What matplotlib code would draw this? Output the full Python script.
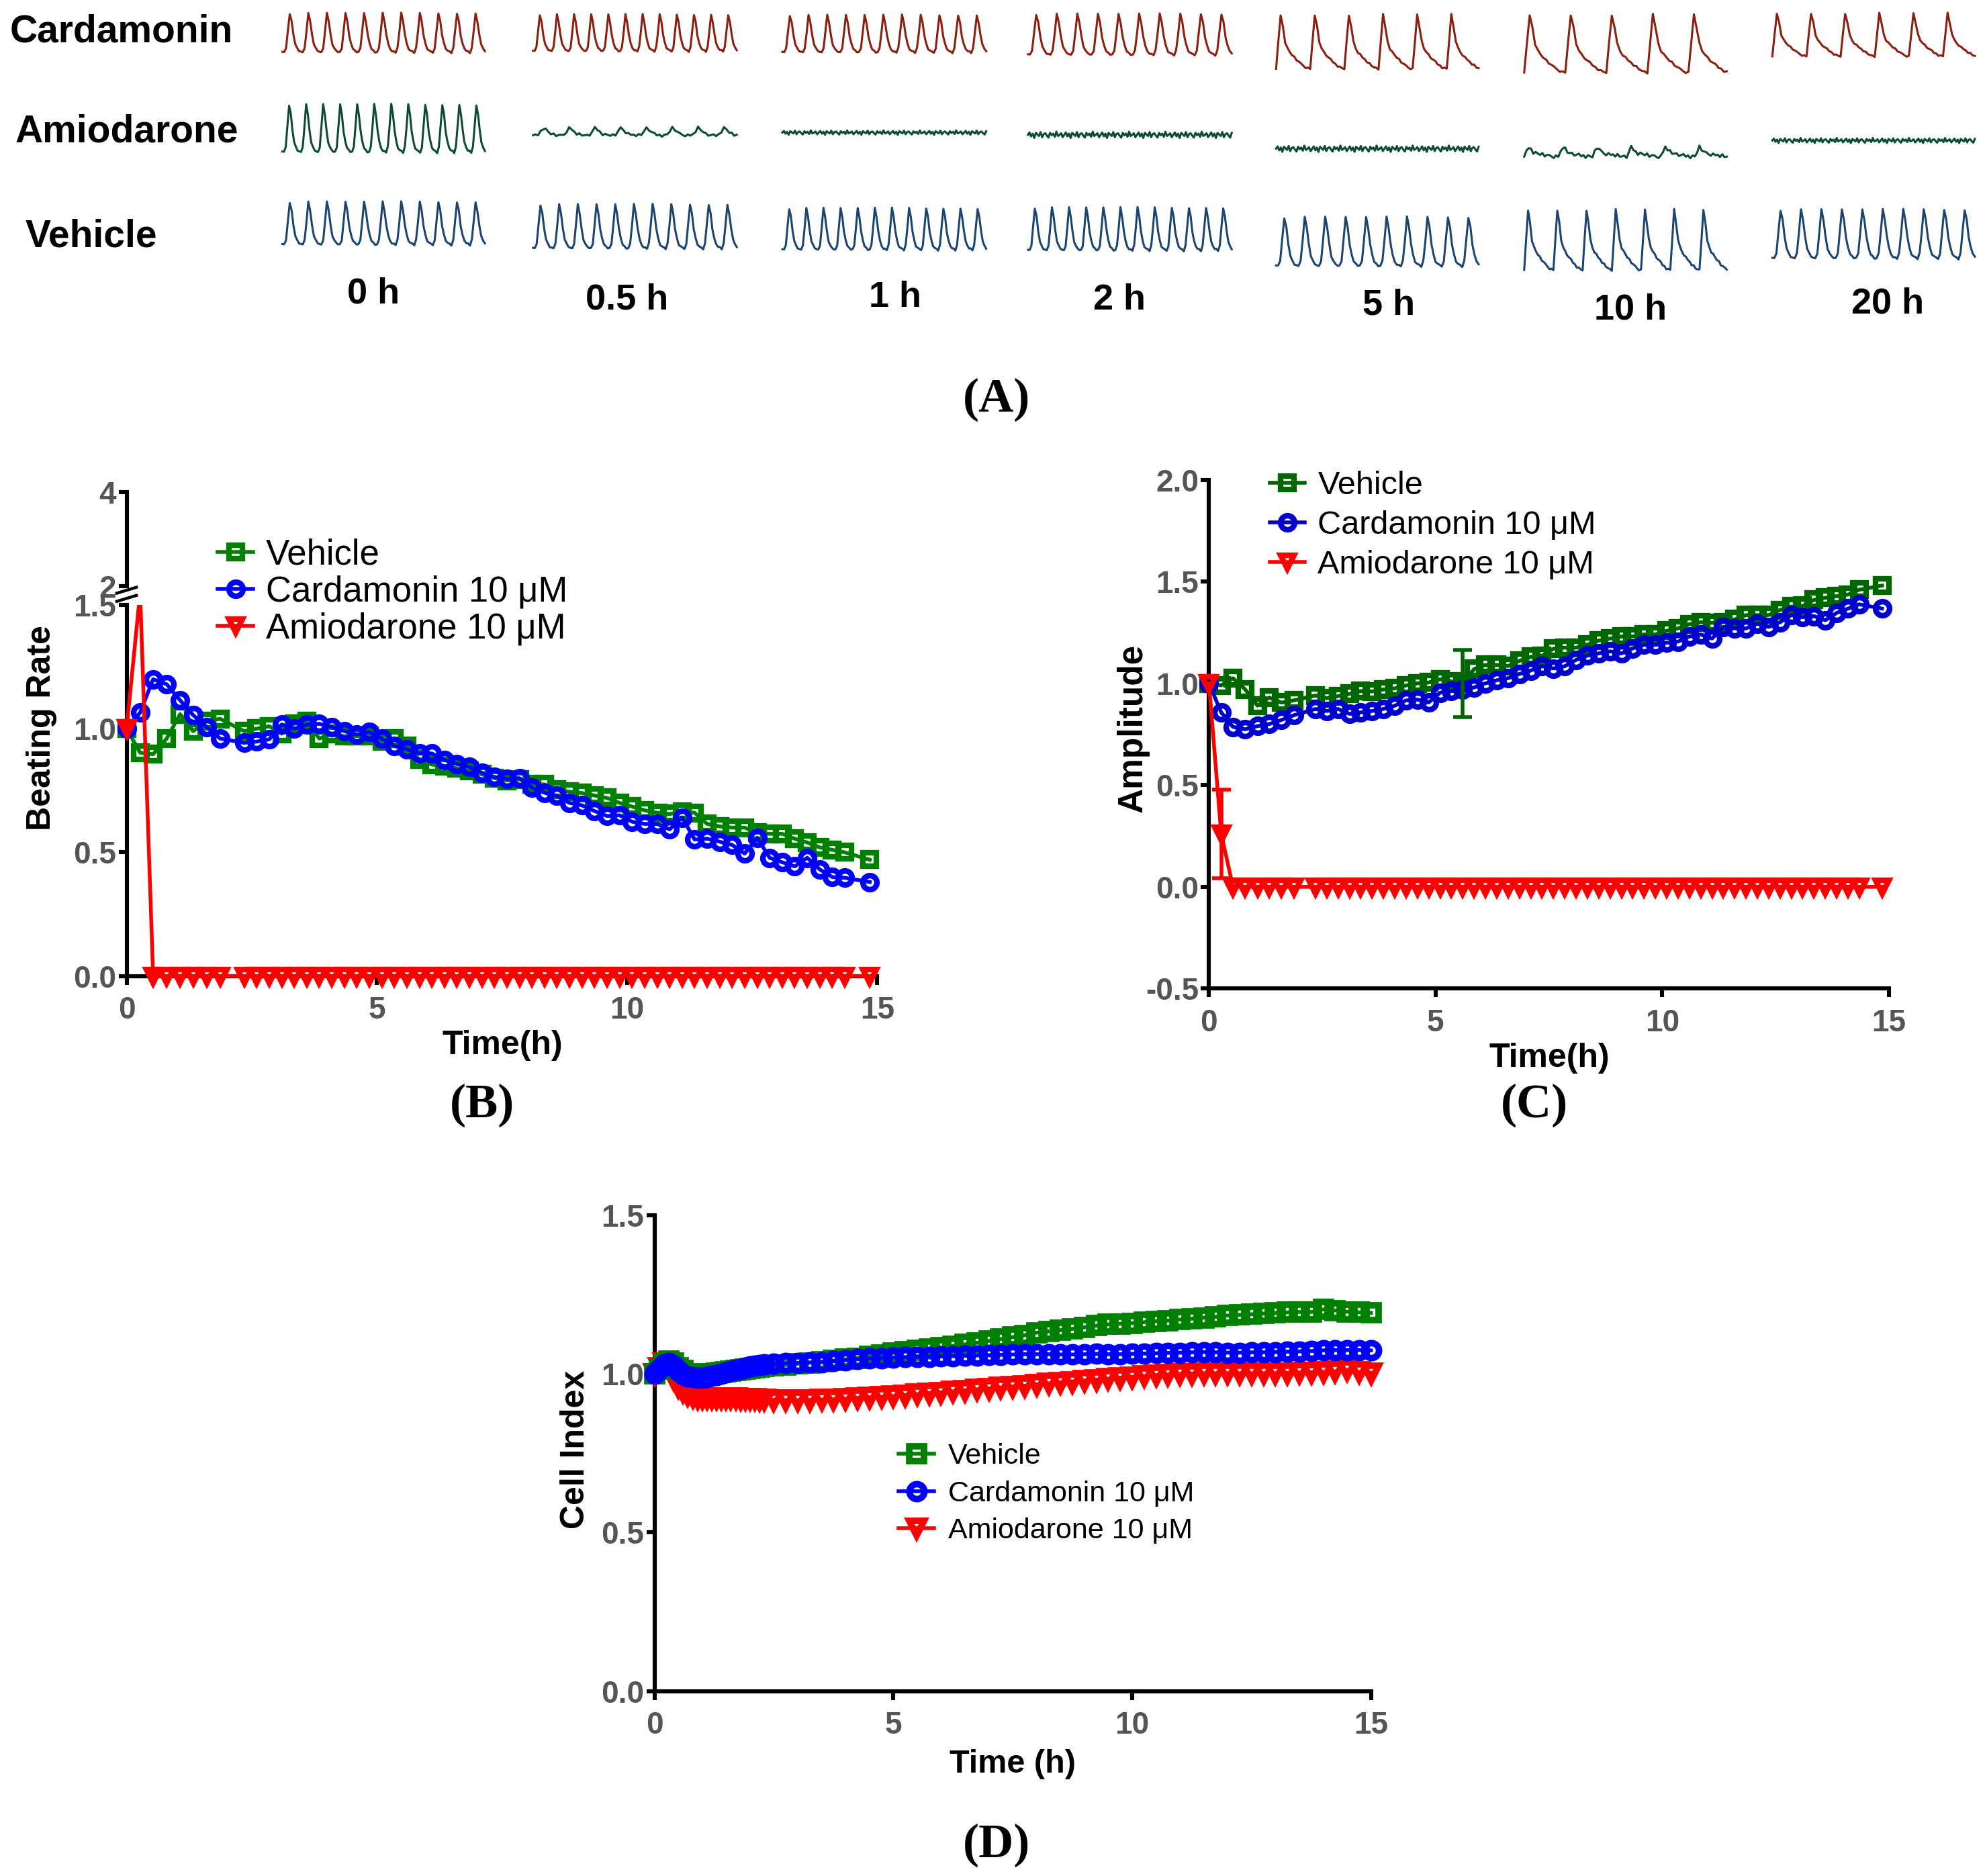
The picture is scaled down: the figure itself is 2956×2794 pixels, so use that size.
import numpy as np
import matplotlib
matplotlib.use('Agg')
import matplotlib.pyplot as plt
from matplotlib.transforms import Bbox, TransformedBbox

plt.rcParams['font.family'] = ['Liberation Sans', 'DejaVu Sans']

# ------------------------------------------------------------------------------
# (A) field potential traces
treatments = ['Cardamonin', 'Amiodarone', 'Vehicle']
timepoints = ['0 h', '0.5 h', '1 h', '2 h', '5 h', '10 h', '20 h']
card_beats = [11, 12, 11, 10, 6, 5, 6]
amio_beats = [12, 8, 0, 0, 0, 6, 0]
veh_beats = [11, 11, 12, 12, 10, 7, 10]
card_shape = ['fast', 'fast', 'fast', 'fast', 'slow', 'slow', 'slow']
amio_shape = ['fast', 'fast', 'fast', 'fast', 'fast', 'slow', 'fast']
veh_shape = ['fast', 'fast', 'fast', 'fast', 'fast', 'slow', 'fast']
amio_amp = [1.0, 0.5, 0.0, 0.0, 0.0, 0.6, 0.0]
amio_noise = [0.025, 0.12, 1.0, 1.0, 1.0, 0.15, 1.0]
# one beat
fast_beat = [0.02, 0.0, 0.12, 0.55, 1.0, 0.8, 0.45, 0.22, 0.1, 0.05]
slow_beat = [0.0, 0.5, 1.0, 0.78, 0.5, 0.38, 0.31, 0.26, 0.21, 0.17,
             0.13, 0.09, 0.06, 0.03, 0.01]
jitter = [0.0, 0.6, -0.4, 0.3, -0.8, 0.5, 0.1, -0.3, 0.7, -0.6, 0.2, 0.4,
          -0.2, -0.7, 0.5, -0.1, 0.3, -0.5, 0.8, -0.3, 0.0, 0.4, -0.6]

# (B)/(C) time grid, hours
time_h = [0.0, 0.27, 0.53, 0.8, 1.07, 1.33, 1.6, 1.87,
          2.35, 2.6, 2.85, 3.1, 3.35, 3.6, 3.85, 4.1, 4.35, 4.6,
          4.85, 5.1, 5.35, 5.6, 5.85, 6.1, 6.35, 6.6, 6.85, 7.1,
          7.35, 7.6, 7.85, 8.1, 8.35, 8.6, 8.85, 9.1, 9.35, 9.6,
          9.85, 10.1, 10.35, 10.6, 10.85, 11.1, 11.35, 11.6, 11.85, 12.1,
          12.35, 12.6, 12.85, 13.1, 13.35, 13.6, 13.85, 14.1, 14.35, 14.85]

# (B) beating rate
rate_veh = [1.0, 0.903, 0.897, 0.96, 1.059, 0.99, 1.03, 1.04,
            0.99, 1.00, 1.01, 0.98, 1.02, 1.03, 0.96, 0.98, 0.97, 0.97,
            0.97, 0.95, 0.96, 0.93, 0.875, 0.855, 0.85, 0.84, 0.83, 0.815,
            0.80, 0.79, 0.795, 0.775, 0.775, 0.755, 0.745, 0.74, 0.73, 0.72,
            0.70, 0.685, 0.67, 0.66, 0.655, 0.665, 0.66, 0.615, 0.605, 0.60,
            0.60, 0.58, 0.575, 0.575, 0.555, 0.54, 0.52, 0.51, 0.50, 0.47]
rate_card = [1.0, 1.065, 1.20, 1.18, 1.115, 1.055, 1.007, 0.96,
             0.943, 0.948, 0.957, 1.017, 1.0, 1.017, 1.02, 1.007, 0.99, 0.977,
             0.986, 0.96, 0.93, 0.917, 0.9, 0.9, 0.874, 0.857, 0.845, 0.822,
             0.805, 0.797, 0.8, 0.762, 0.741, 0.728, 0.70, 0.69, 0.667, 0.647,
             0.65, 0.624, 0.615, 0.615, 0.593, 0.641, 0.552, 0.555, 0.543, 0.53,
             0.495, 0.559, 0.478, 0.46, 0.443, 0.478, 0.431, 0.40, 0.397, 0.38]
rate_amio = [1.0, 1.55] + [0.0] * 56

# (C) amplitude
amp_veh = [1.0, 0.99, 1.025, 0.97, 0.89, 0.93, 0.905, 0.916,
           0.94, 0.927, 0.937, 0.948, 0.962, 0.96, 0.97, 0.975, 0.99, 1.0,
           1.004, 1.02, 1.01, 1.0, 1.07, 1.09, 1.09, 1.085, 1.11, 1.13,
           1.135, 1.17, 1.175, 1.175, 1.19, 1.21, 1.22, 1.23, 1.23, 1.24,
           1.24, 1.258, 1.27, 1.29, 1.30, 1.297, 1.30, 1.314, 1.335, 1.335,
           1.335, 1.36, 1.377, 1.38, 1.41, 1.42, 1.428, 1.436, 1.46, 1.48]
amp_card = [1.0, 0.857, 0.786, 0.774, 0.79, 0.80, 0.82, 0.843,
            0.874, 0.864, 0.874, 0.85, 0.857, 0.864, 0.874, 0.89, 0.916, 0.92,
            0.906, 0.954, 0.962, 0.97, 0.98, 1.0, 1.015, 1.025, 1.046, 1.063,
            1.084, 1.073, 1.084, 1.115, 1.136, 1.147, 1.157, 1.147, 1.172, 1.189,
            1.189, 1.2, 1.205, 1.23, 1.24, 1.22, 1.277, 1.27, 1.27, 1.293,
            1.277, 1.30, 1.335, 1.325, 1.33, 1.31, 1.346, 1.367, 1.388, 1.367]
amp_amio = [1.0, 0.26] + [0.0] * 56
amp_veh_err_t = [5.6]
amp_veh_err_y = [1.0]
amp_veh_err = [0.165]
amp_amio_err_t = [0.27]
amp_amio_err_y = [0.26]
amp_amio_err = [0.217]

# (D) cell index
ci_time = [0.0, 0.1, 0.2, 0.3, 0.4, 0.5, 0.6, 0.7, 0.8, 0.9, 1.0, 1.1,
           1.2, 1.3, 1.4, 1.5, 1.6, 1.7, 1.8, 1.9, 2.0, 2.1, 2.2, 2.3,
           2.5, 2.75, 3.0, 3.25, 3.5, 3.75, 4.0, 4.25, 4.5, 4.75,
           5.0, 5.25, 5.5, 5.75, 6.0, 6.25, 6.5, 6.75, 7.0, 7.25,
           7.5, 7.75, 8.0, 8.25, 8.5, 8.75, 9.0, 9.25, 9.5, 9.75,
           10.0, 10.25, 10.5, 10.75, 11.0, 11.25, 11.5, 11.75, 12.0, 12.25,
           12.5, 12.75, 13.0, 13.25, 13.5, 13.75, 14.0, 14.25, 14.5, 14.75, 15.0]
ci_veh = [1.0, 1.015, 1.03, 1.04, 1.035, 1.02, 1.01, 1.0, 0.998, 0.998, 0.999, 1.0,
          1.001, 1.002, 1.004, 1.006, 1.008, 1.01, 1.012, 1.015, 1.018, 1.02, 1.022, 1.024,
          1.025, 1.028, 1.032, 1.035, 1.038, 1.042, 1.046, 1.05, 1.055, 1.06,
          1.066, 1.07, 1.074, 1.078, 1.083, 1.088, 1.093, 1.098, 1.104, 1.11,
          1.116, 1.122, 1.13, 1.134, 1.138, 1.142, 1.147, 1.152, 1.156, 1.158,
          1.16, 1.163, 1.166, 1.168, 1.171, 1.174, 1.177, 1.18, 1.184, 1.186,
          1.188, 1.19, 1.192, 1.194, 1.195, 1.195, 1.203, 1.2, 1.196, 1.194, 1.192]
ci_card = [1.0, 1.015, 1.03, 1.035, 1.025, 1.01, 0.998, 0.992, 0.99, 0.988, 0.988, 0.99,
           0.993, 0.996, 1.0, 1.004, 1.008, 1.012, 1.016, 1.02, 1.023, 1.026, 1.028, 1.03,
           1.032, 1.034, 1.035, 1.036, 1.037, 1.04, 1.043, 1.046, 1.048, 1.05,
           1.052, 1.053, 1.054, 1.054, 1.055, 1.056, 1.057, 1.058, 1.059, 1.06,
           1.061, 1.062, 1.062, 1.062, 1.061, 1.061, 1.062, 1.063, 1.062, 1.062,
           1.063, 1.064, 1.065, 1.066, 1.067, 1.068, 1.069, 1.068, 1.067, 1.067,
           1.068, 1.068, 1.069, 1.07, 1.071, 1.072, 1.074, 1.075, 1.075, 1.075, 1.074]
ci_amio = [1.0, 1.02, 1.035, 1.02, 0.985, 0.96, 0.945, 0.935, 0.928, 0.925, 0.924, 0.924,
           0.925, 0.925, 0.925, 0.925, 0.924, 0.924, 0.923, 0.923, 0.922, 0.922, 0.921, 0.92,
           0.918, 0.917, 0.917, 0.918, 0.919, 0.92, 0.922, 0.924, 0.926, 0.928,
           0.93, 0.933, 0.936, 0.939, 0.942, 0.945, 0.948, 0.951, 0.954, 0.957,
           0.96, 0.963, 0.967, 0.97, 0.973, 0.976, 0.979, 0.982, 0.985, 0.988,
           0.99, 0.993, 0.996, 0.998, 1.0, 1.001, 1.002, 1.002, 1.002, 1.002,
           1.002, 1.002, 1.002, 1.003, 1.004, 1.005, 1.006, 1.008, 1.012, 1.006, 1.003]

series_labels = ['Vehicle', 'Cardamonin 10 μM', 'Amiodarone 10 μM']

# ------------------------------------------------------------------------------
# layout, in pixels of a 1568 x 1482 grid over the page
W, H = 1568.0, 1482.0


def fig_box(x0, y0, x1, y1):
    return [x0 / W, 1 - y1 / H, (x1 - x0) / W, (y1 - y0) / H]


def fpos(x, y):
    return x / W, 1 - y / H


fig = plt.figure(figsize=(14.78, 13.97), dpi=200)

TICK_GREY = '#555555'


def style_axes(ax, xticks, xlabels, yticks, ylabels):
    for s in ['top', 'right']:
        ax.spines[s].set_visible(False)
    for s in ['left', 'bottom']:
        ax.spines[s].set_linewidth(2.2)
    ax.set_xticks(xticks, xlabels, fontweight='bold')
    ax.set_yticks(yticks, ylabels, fontweight='bold')
    ax.tick_params(direction='out', length=4.5, width=2.2, labelsize=16.5,
                   labelcolor=TICK_GREY)
    ax.tick_params(axis='x', pad=6)
    ax.tick_params(axis='y', pad=1)


# ------------------------------------------------------------------------------
# (A)
trace_cols = [(223, 383), (421, 582), (618, 779), (812, 973),
              (1008, 1168), (1204, 1364), (1400, 1560)]
trace_rows = [
    [(10, 42), (11, 41), (11.5, 42), (10.6, 44), (11, 55), (11, 58), (10, 45)],
    [(82, 121), (100, 108), (103, 106.5), (104, 109), (115, 120), (115, 125), (109, 113)],
    [(159, 194), (161, 197), (164, 198), (163.5, 198.5), (171, 211), (165, 214), (165, 205)],
]
trace_colors = ['#8B1E0E', '#0D4A36', '#1B4470']
row_label_pos = [(8, 25), (12, 104), (20, 187)]
time_label_pos = [(295, 232), (495, 237), (707, 235), (884, 237),
                  (1097, 241), (1288, 245), (1491, 240)]

beats = [card_beats, amio_beats, veh_beats]
shapes = [card_shape, amio_shape, veh_shape]
amps = [[1.0] * 7, amio_amp, [1.0] * 7]
noises = [[0.025] * 7, amio_noise, [0.025] * 7]
templates = {'fast': fast_beat, 'slow': slow_beat}


def make_trace(n_beats, shape, amp, noise):
    if n_beats > 0:
        base = np.tile(templates[shape], n_beats) * amp
    else:
        base = np.zeros(130)
    return base + np.resize(jitter, base.size) * noise


for r in range(3):
    for c in range(7):
        y = make_trace(beats[r][c], shapes[r][c], amps[r][c], noises[r][c])
        x0, x1 = trace_cols[c]
        top, bottom = trace_rows[r][c]
        ax = fig.add_axes(fig_box(x0, top, x1, bottom))
        ax.plot(np.linspace(0, 1, y.size), y, color=trace_colors[r], lw=1.1,
                clip_on=False)
        ax.set_xlim(0, 1)
        ax.set_ylim(y.min(), y.max())
        ax.axis('off')

for name, (x, y) in zip(treatments, row_label_pos):
    fig.text(*fpos(x, y), name, fontsize=20.5, fontweight='bold',
             ha='left', va='center')
for name, (x, y) in zip(timepoints, time_label_pos):
    fig.text(*fpos(x, y), name, fontsize=19.5, fontweight='bold',
             ha='center', va='center')

# ------------------------------------------------------------------------------
# series styles
def series_style(color, marker, ms=7.5, mew=3.0):
    return dict(color=color, marker=marker, mfc='none', mec=color, ms=ms,
                mew=mew, lw=2, zorder=3)


# (B) beating rate, broken y axis
axb = fig.add_axes(fig_box(100, 478, 693, 771))
axb_top = fig.add_axes(fig_box(100, 389, 693, 463))

l_veh, = axb.plot(time_h, rate_veh, **series_style('#008000', 's'))
l_card, = axb.plot(time_h, rate_card, **series_style('#0000FF', 'o'))
l_amio, = axb.plot(time_h, rate_amio, **series_style('#FF0000', 'v'))
top_clip = TransformedBbox(Bbox([[-0.05, -0.1], [1.05, 1.0]]), axb.transAxes)
for ln in (l_veh, l_card, l_amio):
    ln.set_clip_box(top_clip)
axb.set_xlim(0, 15)
axb.set_ylim(0, 1.5)
style_axes(axb, [0, 5, 10, 15], ['0', '5', '10', '15'],
           [0, 0.5, 1.0, 1.5], ['0.0', '0.5', '1.0', '1.5'])

axb_top.set_xlim(0, 15)
axb_top.set_ylim(2, 4)
style_axes(axb_top, [], [], [2, 4], ['2', '4'])
axb_top.spines['bottom'].set_visible(False)
axb_top.patch.set_visible(False)

# break marks
for f in (1.018, 1.040):
    axb.plot([-0.013, 0.013], [f - 0.008, f + 0.008], transform=axb.transAxes,
             color='k', lw=1.6, clip_on=False)

axb.set_xlabel('Time(h)', fontsize=18, fontweight='bold', va='center')
axb.xaxis.set_label_coords(0.501, -0.188)
axb.set_ylabel('Beating Rate', fontsize=18, fontweight='bold', va='center')
axb.yaxis.set_label_coords(-0.113, 0.669)
axb.legend([l_veh, l_card, l_amio], series_labels, loc='upper left',
           bbox_to_anchor=fpos(172, 425), bbox_transform=fig.transFigure,
           frameon=False, fontsize=19, handlelength=1.0, handletextpad=0.35,
           labelspacing=0.1, borderpad=0, borderaxespad=0, numpoints=1)

# (C) amplitude
axc = fig.add_axes(fig_box(955, 379, 1492, 781))
c_veh, = axc.plot(time_h, amp_veh, clip_on=False, **series_style('#006600', 's'))
c_card, = axc.plot(time_h, amp_card, clip_on=False, **series_style('#0000CD', 'o'))
c_amio, = axc.plot(time_h, amp_amio, clip_on=False, **series_style('#FF0000', 'v'))
axc.errorbar(amp_veh_err_t, amp_veh_err_y, yerr=amp_veh_err, fmt='none',
             ecolor='#006600', elinewidth=2, capsize=5, capthick=2, zorder=3)
axc.errorbar(amp_amio_err_t, amp_amio_err_y, yerr=amp_amio_err, fmt='none',
             ecolor='#FF0000', elinewidth=2, capsize=5, capthick=2, zorder=3)
axc.set_xlim(0, 15)
axc.set_ylim(-0.5, 2.0)
style_axes(axc, [0, 5, 10, 15], ['0', '5', '10', '15'],
           [-0.5, 0, 0.5, 1.0, 1.5, 2.0], ['-0.5', '0.0', '0.5', '1.0', '1.5', '2.0'])
axc.set_xlabel('Time(h)', fontsize=18, fontweight='bold', va='center')
axc.xaxis.set_label_coords(0.501, -0.137)
axc.set_ylabel('Amplitude', fontsize=18.5, fontweight='bold', va='center')
axc.yaxis.set_label_coords(-0.112, 0.512)
axc.legend([c_veh, c_card, c_amio], series_labels, loc='upper left',
           bbox_to_anchor=fpos(1003, 372), bbox_transform=fig.transFigure,
           frameon=False, fontsize=17.5, handlelength=1.08, handletextpad=0.39,
           labelspacing=0.28, borderpad=0, borderaxespad=0, numpoints=1)

# (D) cell index
axd = fig.add_axes(fig_box(517, 960, 1083, 1336))
d_amio, = axd.plot(ci_time, ci_amio, clip_on=False, **series_style('#FF0000', 'v', 8, 3.5))
d_veh, = axd.plot(ci_time, ci_veh, clip_on=False, **series_style('#008000', 's', 8, 3.5))
d_card, = axd.plot(ci_time, ci_card, clip_on=False, **series_style('#0000FF', 'o', 8, 3.5))
axd.set_xlim(0, 15)
axd.set_ylim(0, 1.5)
style_axes(axd, [0, 5, 10, 15], ['0', '5', '10', '15'],
           [0, 0.5, 1.0, 1.5], ['0.0', '0.5', '1.0', '1.5'])
axd.set_xlabel('Time (h)', fontsize=17.5, fontweight='bold', va='center')
axd.xaxis.set_label_coords(0.5, -0.154)
axd.set_ylabel('Cell Index', fontsize=18, fontweight='bold', va='center')
axd.yaxis.set_label_coords(-0.110, 0.508)
axd.legend([d_veh, d_card, d_amio], series_labels, loc='upper left',
           bbox_to_anchor=fpos(710, 1140), bbox_transform=fig.transFigure,
           frameon=False, fontsize=15.5, handlelength=1.23, handletextpad=0.48,
           labelspacing=0.36, borderpad=0, borderaxespad=0, numpoints=1)

# panel letters
for lab, (x, y) in zip(['(A)', '(B)', '(C)', '(D)'],
                       [(787, 316), (381, 873), (1212, 873), (787, 1458)]):
    fig.text(*fpos(x, y), lab, fontsize=26, fontweight='bold',
             family=['Liberation Serif', 'DejaVu Serif'], ha='center', va='center')

fig.savefig('out.png', dpi=200)
